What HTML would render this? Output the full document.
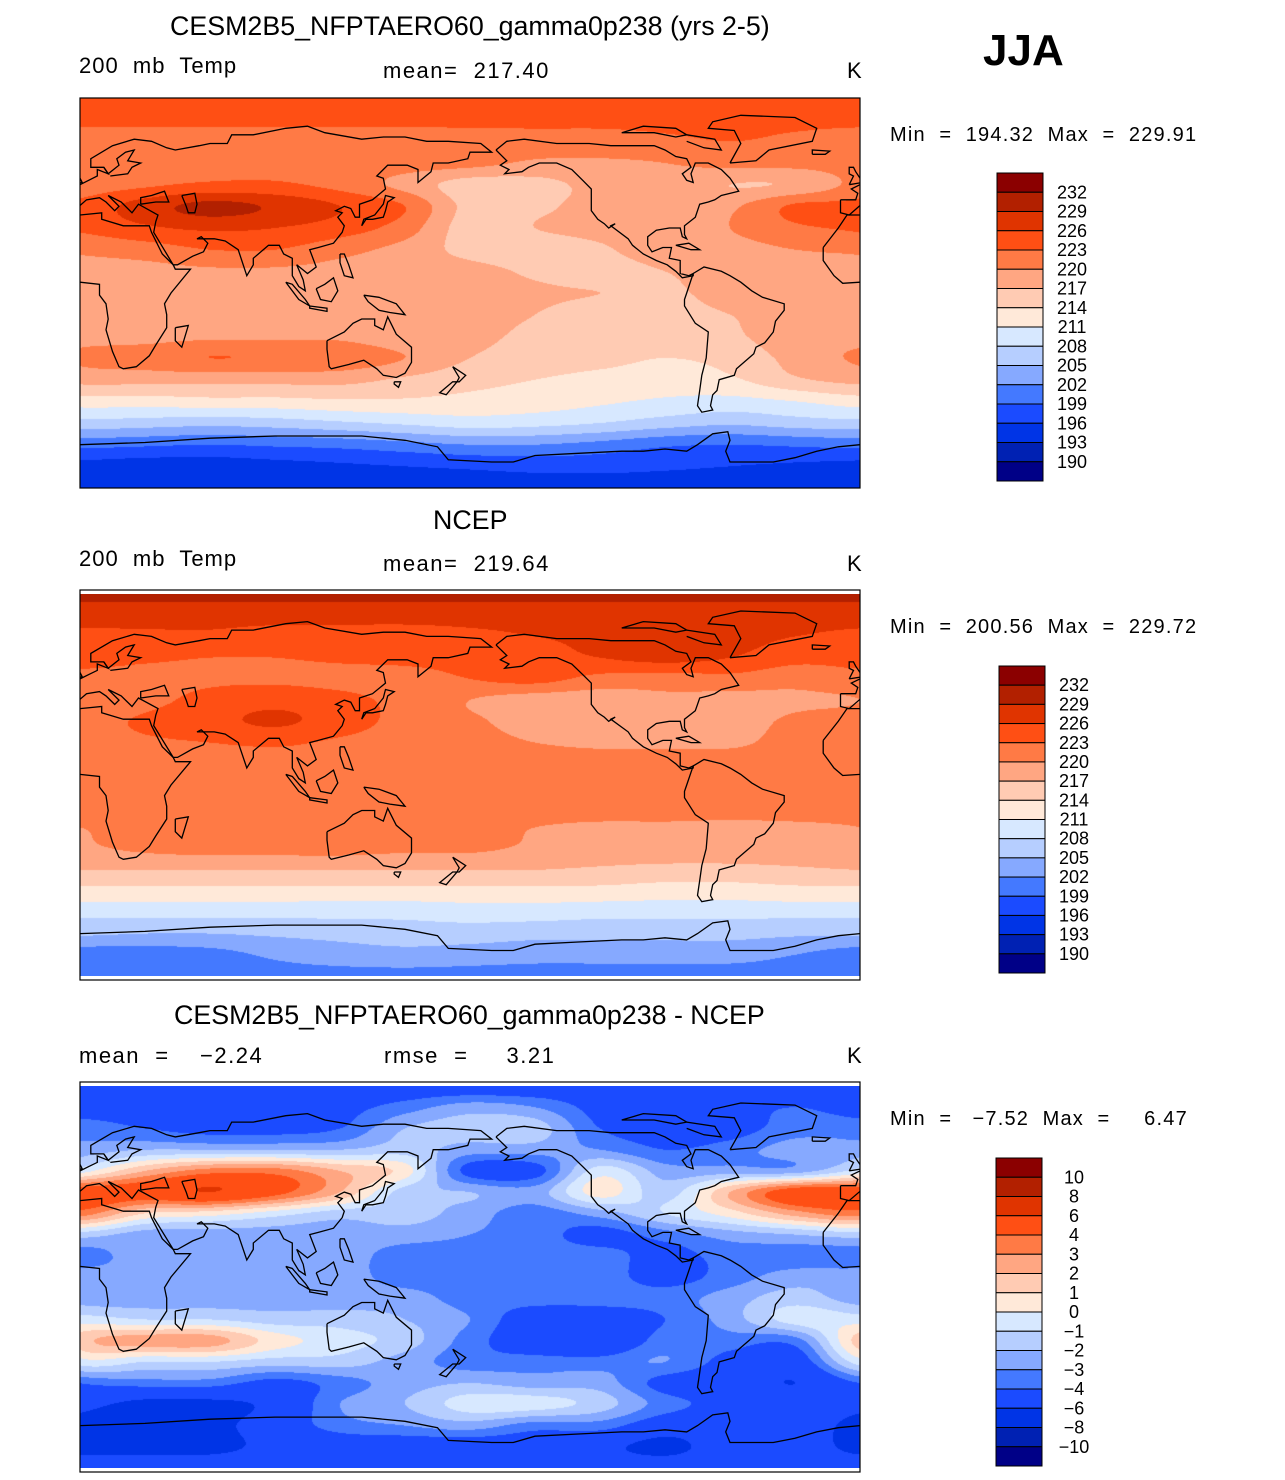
<!DOCTYPE html>
<html><head><meta charset="utf-8">
<style>
body{margin:0;background:#fff;}
#root{position:relative;width:1285px;height:1480px;overflow:hidden;background:#fff;font-family:"Liberation Sans",sans-serif;color:#000;}
.t{position:absolute;white-space:pre;line-height:1;}
.title{font-size:26.8px;}
.sub{font-size:22px;letter-spacing:1.5px;}
.minmax{font-size:20px;letter-spacing:1.2px;}
.lab{font-size:17px;}
canvas{position:absolute;}
svg{position:absolute;left:0;top:0;}
</style></head><body>
<div id="root">
<div class="t title" style="left:170px;top:13px">CESM2B5_NFPTAERO60_gamma0p238 (yrs 2-5)</div>
<div class="t sub" style="left:79px;top:55px;letter-spacing:1px">200  mb  Temp</div>
<div class="t sub" style="left:383px;top:60px">mean=  217.40</div>
<div class="t sub" style="left:847px;top:60px">K</div>
<div class="t" style="left:983px;top:29px;font-size:44px;font-weight:bold">JJA</div>
<div class="t minmax" style="left:890px;top:125px">Min  =  194.32  Max  =  229.91</div>

<div class="t title" style="left:433px;top:507px">NCEP</div>
<div class="t sub" style="left:79px;top:548px;letter-spacing:1px">200  mb  Temp</div>
<div class="t sub" style="left:383px;top:553px">mean=  219.64</div>
<div class="t sub" style="left:847px;top:553px">K</div>
<div class="t minmax" style="left:890px;top:617px">Min  =  200.56  Max  =  229.72</div>

<div class="t title" style="left:174px;top:1002px">CESM2B5_NFPTAERO60_gamma0p238 - NCEP</div>
<div class="t sub" style="left:79px;top:1045px">mean  =    −2.24</div>
<div class="t sub" style="left:384px;top:1045px">rmse  =     3.21</div>
<div class="t sub" style="left:847px;top:1045px">K</div>
<div class="t minmax" style="left:890px;top:1109px">Min  =   −7.52  Max  =     6.47</div>

<canvas id="c1" width="780" height="390" style="left:80px;top:98px"></canvas>
<canvas id="c2" width="780" height="382" style="left:80px;top:594px"></canvas>
<canvas id="c3" width="780" height="382" style="left:80px;top:1086px"></canvas>
<svg id="ov" width="1285" height="1480"></svg>
</div>
<script>
const palette=["#000087","#0021B3","#0034E6","#1B4BFF","#4479FF","#86A9FF","#B6CEFF","#D7E8FF","#FFE9D9","#FFCBB3","#FFA682","#FF7A45","#FF4F14","#E03400","#B22000","#8B0000"];
const tempLevels=[190,193,196,199,202,205,208,211,214,217,220,223,226,229,232];
const diffLevels=[-10,-8,-6,-4,-3,-2,-1,0,1,2,3,4,6,8,10];
const tempLabels=["232","229","226","223","220","217","214","211","208","205","202","199","196","193","190"];
const diffLabels=["10","8","6","4","3","2","1","0","−1","−2","−3","−4","−6","−8","−10"];
// grids: rows lat 90..-90 step 10, cols lon 0..330 step 30
const f12=v=>[v,v,v,v,v,v,v,v,v,v,v,v];
const modelT=[
f12(224),f12(223.5),
[222,222,222,222,222,222,222,222,222,222.5,223,222.5],
[221.5,222,222,222,222,221.5,221,219.5,219.5,220,221,221],
[221,222.5,223.5,223.5,222,219,215.5,216,218,219,217,217.5],
[224,227.5,230,228.5,226,223,216,216.5,218,219,219.5,223.5],
[223.5,225.5,226.5,226,224.5,221.5,215.5,217,218,218.5,220,222.5],
[220.5,221.5,223,223,221,219,216,215.5,216.5,219,219,220],
[219,219,219.5,219.5,219,219,218,216.5,215.5,217,218.5,219],
[218.5,218.5,218.5,218.5,218.5,218.5,218,217.5,217,216.5,218,218.5],
[218.5,218.5,218.5,218.5,218.5,218,217.5,217,215.5,216,217,218],
[219,219,219.5,219.5,219.5,218,217.5,216.5,215.5,215.5,216.5,218.5],
[220.5,221.5,223,222.5,222,220,217,216,215,214,215,218],
[218,218,218,218,218,216.5,215,214,213,212.5,213.5,216.5],
[212.5,212.5,213,213,213.5,213.5,213,212.5,211.5,210.5,210,211],
[207,206.5,206,206.5,207.5,208.5,209.5,209,208,206.5,205.5,206.5],
[200,199.5,199,199.5,200,201,202,202,201,199.5,199,199.5],
[195,194.5,194.5,195,195.5,196,196.5,197,197,196.5,196,195.5],
f12(194.5)];
const ncepT=[
f12(230),f12(227),
[225.5,225.5,225.5,225,225,225,225.5,226,226.5,227,227,226],
[224,223.5,223,223,223.5,224,224.5,225,226,227,226,224],
[222,222,222.5,222.5,222,221.5,223,224,222,221.5,222,221],
[220,222,224,225,224,222,220,218.5,218.5,219.5,219,219.5],
[221.5,223.5,225,226.5,224.5,222,220.5,219,219.5,219.5,219,220.5],
[221.5,222.5,223,223.5,222.5,221.5,221,220,219.5,219.5,219.5,221],
f12(221.5),f12(221.5),
[221.5,221.5,221.5,221.5,221.5,221.5,221.5,221.5,221.5,221.5,221,221.5],
[220,221,221.5,221.5,221,221,221,220,219.5,219.5,219.5,219.5],
[219.5,220.5,221,221,221,220.5,220.5,219.5,219,219,219,219],
[217,217,217,217,217,217,217,217,216.5,216,216,216.5],
[213,213,213,213,213,213,213,213,213,212.5,212.5,213],
[209,209,209,209,209,209,209.5,209.5,209,209,209,209],
[205.5,205,205,205.5,206,206.5,206.5,206,206,206,206,205.5],
[200.5,200.5,201,202.5,203.5,204,203.5,203,203,203,203,202],
f12(201)];
const diffT=[
f12(-5),
[-4.5,-4.5,-5,-5,-4.5,-3.5,-2.5,-3,-4.5,-5,-4.5,-4],
[-3.5,-4,-4.5,-4.5,-4,-2,-1.5,-1.5,-4,-4.5,-4.5,-3.5],
[-2.5,-2,-2,-2,-2,-1.5,-2.5,-2.5,-3,-4,-3.5,-2.5],
[-0.5,2,3.5,3.5,2,0.5,-4.5,-4.5,-0.5,-2.5,-2.5,-2.5],
[5,5,6,4.5,2,-1.5,-2,-2.5,0.5,-1.5,2,5],
[3.5,1,0.5,-0.5,-1.5,-1.5,-2.5,-3.5,-2.5,-1,0.5,2.5],
[-1.5,-2.5,-2.5,-2.5,-2.5,-2.5,-3,-3.5,-4.5,-3.5,-2.5,-2],
[-3.5,-2.5,-2.5,-2.5,-2.5,-3.5,-3.5,-3.5,-3.5,-4.5,-3.5,-3.5],
[-2.5,-2.5,-2.5,-2.5,-2.5,-3.5,-3.5,-3.5,-3.5,-4.5,-3.5,-2.5],
[-2.5,-2.5,-2.5,-2.5,-2.5,-2.5,-3.5,-3.5,-3.5,-3.5,-2.5,-1.5],
[-0.5,-1,-1,-1.5,-1.5,-2,-3,-5,-5,-4,-2.5,-0.5],
[1.5,2.5,2.5,0.5,-0.5,-1.5,-3.5,-5,-5.5,-3.5,-3.5,-3.5],
[-0.5,-1,-1,-1.5,-1.5,-2.5,-3.5,-3.5,-3.5,-3,-4.5,-5],
[-4,-3.5,-3.5,-4.5,-3.5,-2.5,-2,-2.5,-2.5,-4.5,-5,-6],
[-5.5,-6.5,-6.5,-5.5,-3,-2,-0.5,-0.5,-1.5,-3.5,-4.5,-5],
[-6.5,-6.5,-6.5,-5,-3.5,-3,-2.5,-3.5,-3.5,-5,-5,-5],
[-6.5,-6.5,-6.5,-5.5,-5,-5,-5,-5,-5.5,-6.5,-5,-5],
f12(-5)];

function cr(p0,p1,p2,p3,t){return 0.5*((2*p1)+(-p0+p2)*t+(2*p0-5*p1+4*p2-p3)*t*t+(-p0+3*p1-3*p2+p3)*t*t*t);}
function sample(g,lon,lat){
  const fx=lon/30, fy=(90-lat)/10;
  const ix=Math.floor(fx), iy=Math.floor(fy), tx=fx-ix, ty=fy-iy;
  const G=(i,j)=>g[Math.max(0,Math.min(18,i))][((j%12)+12)%12];
  const rows=[];
  for(let k=-1;k<=2;k++){const i=iy+k;rows.push(cr(G(i,ix-1),G(i,ix),G(i,ix+1),G(i,ix+2),tx));}
  return cr(rows[0],rows[1],rows[2],rows[3],ty);
}
function hex(c){return [parseInt(c.substr(1,2),16),parseInt(c.substr(3,2),16),parseInt(c.substr(5,2),16)];}
const palRGB=palette.map(hex);
function drawMap(id,g,levels){
  const cv=document.getElementById(id),ctx=cv.getContext('2d');
  const W=cv.width,H=cv.height,img=ctx.createImageData(W,H);
  for(let y=0;y<H;y++){const lat=90-180*(y+0.5)/H;
    for(let x=0;x<W;x++){const lon=360*(x+0.5)/W;
      const v=sample(g,lon,lat);let k=0;while(k<levels.length&&v>=levels[k])k++;
      const c=palRGB[k],o=(y*W+x)*4;img.data[o]=c[0];img.data[o+1]=c[1];img.data[o+2]=c[2];img.data[o+3]=255;}}
  ctx.putImageData(img,0,0);
}
drawMap('c1',modelT,tempLevels);
drawMap('c2',ncepT,tempLevels);
drawMap('c3',diffT,diffLevels);

const coasts=[
[[-17,21],[-17,15],[-12,8],[-8,4.5],[0,5],[9,4],[9,-1],[12,-5],[13,-12],[12,-17],[15,-27],[18,-34],[20,-35],[26,-34],[32,-29],[35,-24],[40,-16],[40,-10],[39,-5],[42,0],[51,11],[44,11],[43,13],[38,18],[33,28],[32,31],[20,31],[10,34],[10,37],[0,36],[-6,36],[-10,30],[-17,21]],
[[44,-16],[50,-15],[47,-25],[44,-22],[44,-16]],
[[-9,43],[-9,37],[-5,36],[3,43],[9,44],[12,42],[16,38],[18,40],[13,45],[19,42],[24,37],[27,41],[36,36],[35,33],[34,28],[43,13],[45,13],[52,17],[57,19],[59,23],[56,26],[54,25],[57,25],[62,25],[67,24],[73,20],[77,8],[80,13],[80,16],[87,22],[92,22],[94,18],[98,16],[98,8],[101,3],[104,1],[103,6],[100,13],[105,9],[109,12],[106,20],[110,21],[117,23],[121,28],[122,31],[119,35],[121,37],[118,38],[122,40],[125,39],[127,35],[129,35],[129,41],[135,43],[141,48],[140,53],[137,54],[142,59],[151,59],[156,57],[156,51],[162,56],[163,60],[170,60],[179,62],[180,65],[190,65],[185,69],[170,70],[160,70],[150,72],[140,72],[130,71],[113,74],[105,77],[95,76],[80,73],[70,73],[68,69],[60,69],[55,68],[44,66],[40,67],[33,70],[25,71],[15,68],[5,62],[5,58],[11,58],[13,55],[8,57],[8,54],[4,52],[0,50],[-4,48],[-1,46],[-2,43],[-9,43]],
[[-5,50],[1,51],[0,53],[-2,56],[-3,58],[-5,58],[-5,55],[-3,54],[-5,50]],
[[11,58],[13,55],[18,59],[17,62],[21,65],[25,66],[22,61],[28,60],[24,58],[22,55],[14,54]],
[[47,45],[53,46],[54,41],[53,37],[50,37],[49,40],[47,45]],
[[28,41],[28,44],[33,45],[39,47],[41,42],[35,42],[28,41]],
[[130,31],[132,34],[135,34],[140,35],[141,38],[142,42],[145,44],[141,45],[140,41],[136,36],[131,34],[130,31]],
[[109,2],[111,-3],[116,-4],[119,1],[117,7],[113,4],[109,2]],
[[95,5],[98,4],[104,-3],[106,-6],[101,-3],[95,5]],
[[106,-6],[114,-7],[114,-8.5],[106,-7],[106,-6]],
[[120,18],[122,18],[124,13],[126,7],[122,8],[120,14],[120,18]],
[[131,-1],[138,-2],[146,-5],[150,-10],[143,-9],[138,-8],[133,-4],[131,-1]],
[[114,-22],[122,-18],[126,-14],[130,-12],[136,-12],[136,-15],[140,-17],[142,-11],[146,-19],[153,-25],[153,-32],[150,-37],[146,-39],[140,-38],[137,-35],[131,-31],[124,-33],[116,-35],[115,-34],[114,-26],[114,-22]],
[[145,-41],[148,-41],[147,-43.5],[145,-42],[145,-41]],
[[172,-34],[178,-38],[175,-41],[172,-41],[166,-46],[169,-47],[174,-41],[175,-39],[172,-34]],
[[192,66],[197,70],[205,71],[220,69],[235,69],[245,68],[255,68],[265,68],[270,66],[275,63],[280,62],[282,58],[278,55],[280,52],[283,51],[282,55],[284,60],[290,60],[296,57],[300,53],[304,47],[296,45],[293,43],[290,42],[286,41],[285,38],[284,35],[279,31],[279,27],[280,25],[278,26],[277,30],[272,30],[266,29],[262,26],[262,22],[264,19],[269,21],[273,21],[272,16],[277,15],[277,9],[281,8],[283,9],[283,8],[278,7],[275,10],[271,13],[266,15],[260,18],[255,22],[253,25],[245,31],[247,32],[244,30],[242,32],[239,34],[236,38],[236,42],[236,48],[232,52],[227,57],[220,60],[212,60],[207,58],[204,56],[196,55],[198,57],[194,59],[197,61],[194,64],[192,66]],
[[300,60],[312,61],[318,66],[338,70],[340,76],[330,81],[305,82],[292,79],[290,76],[302,75],[305,69],[300,60]],
[[250,74],[265,74],[275,72],[280,73],[275,76],[260,77],[250,74]],
[[280,70],[288,67],[296,66],[293,71],[280,73]],
[[275,22],[281,23],[286,20],[282,20],[275,22]],
[[283,9],[288,12],[296,10],[300,8],[305,5],[310,1],[315,-2],[325,-5],[325,-8],[321,-13],[320,-18],[316,-23],[312,-25],[311,-28],[303,-35],[302,-38],[295,-40],[294,-45],[292,-47],[291,-52],[292,-54],[287,-55],[285,-52],[286,-45],[287,-38],[289,-30],[290,-18],[284,-14],[279,-6],[279,-3],[280,0],[282,6],[283,9]],
[[0,-70],[30,-69],[60,-67],[90,-66],[110,-66],[130,-66],[150,-68],[165,-71],[170,-77],[190,-78],[200,-78],[210,-75],[230,-74],[250,-73],[260,-73],[270,-72],[280,-73],[285,-70],[292,-65],[299,-64],[300,-68],[298,-73],[300,-78],[320,-78],[330,-76],[340,-73],[350,-71],[360,-70]],
[[338,64],[344,64],[346,65.5],[338,66],[338,64]]
];
const NS='http://www.w3.org/2000/svg';
const ov=document.getElementById('ov');
const panels=[
 {name:'panel1',frame:[80,98,780,390],data:[80,98,780,390]},
 {name:'panel2',frame:[80,590,780,390],data:[80,594,780,382]},
 {name:'panel3',frame:[80,1082,780,390],data:[80,1086,780,382]}];
const defs=document.createElementNS(NS,'defs');ov.appendChild(defs);
panels.forEach((p,pi)=>{
  const cp=document.createElementNS(NS,'clipPath');cp.setAttribute('id','clip'+pi);
  const r=document.createElementNS(NS,'rect');const d=p.data;
  r.setAttribute('x',d[0]);r.setAttribute('y',d[1]);r.setAttribute('width',d[2]);r.setAttribute('height',d[3]);
  cp.appendChild(r);defs.appendChild(cp);
  const g=document.createElementNS(NS,'g');g.setAttribute('clip-path','url(#clip'+pi+')');
  
  
  coasts.forEach(c=>{[0,360,-360].forEach(off=>{
    const pts=c.map(q=>[(d[0]+(q[0]+off)/360*d[2]).toFixed(1),(d[1]+(90-q[1])/180*d[3]).toFixed(1)].join(',')).join(' ');
    const pl=document.createElementNS(NS,'polyline');pl.setAttribute('points',pts);
    pl.setAttribute('fill','none');pl.setAttribute('stroke','#000');pl.setAttribute('stroke-width','1.3');
    
    
    g.appendChild(pl);});});
  ov.appendChild(g);
  const fr=document.createElementNS(NS,'rect');const f=p.frame;
  fr.setAttribute('x',f[0]);fr.setAttribute('y',f[1]);fr.setAttribute('width',f[2]);fr.setAttribute('height',f[3]);
  fr.setAttribute('fill','none');fr.setAttribute('stroke','#000');fr.setAttribute('stroke-width','1.2');
  
  
  ov.appendChild(fr);
});
const bars=[{x:997,y:173,w:46,h:308,labels:tempLabels,lx:1056,name:'panel1'},
            {x:999,y:666,w:46,h:307,labels:tempLabels,lx:1058,name:'panel2'},
            {x:996,y:1158,w:46,h:308,labels:diffLabels,lx:1058,name:'panel3'}];
bars.forEach(b=>{
  const g=document.createElementNS(NS,'g');
  
  
  const n=palette.length,bh=b.h/n;
  for(let i=0;i<n;i++){
    const r=document.createElementNS(NS,'rect');
    r.setAttribute('x',b.x);r.setAttribute('y',b.y+i*bh);r.setAttribute('width',b.w);r.setAttribute('height',bh);
    r.setAttribute('fill',palette[n-1-i]);r.setAttribute('stroke','#000');r.setAttribute('stroke-width','1');
    
    
    g.appendChild(r);
  }
  b.labels.forEach((t,i)=>{
    const tx=document.createElementNS(NS,'text');
    tx.setAttribute('x',b.lx+16);tx.setAttribute('y',b.y+(i+1)*bh+6);
    tx.setAttribute('text-anchor','middle');tx.setAttribute('font-size','18');
    tx.setAttribute('font-family','Liberation Sans, sans-serif');
    tx.textContent=t;
    
    
    g.appendChild(tx);
  });
  ov.appendChild(g);
});
</script>
</body></html>
